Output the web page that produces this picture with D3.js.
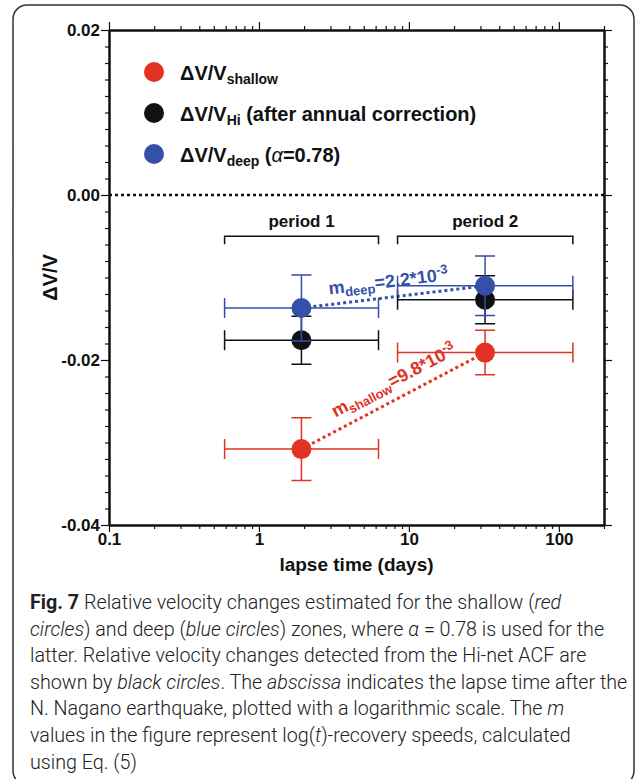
<!DOCTYPE html>
<html>
<head>
<meta charset="utf-8">
<script src="https://cdn.jsdelivr.net/npm/d3@7"></script>
<style>
  body { margin: 0; background: #fff; }
  svg { display: block; }
</style>
</head>
<body>
<div id="chart"></div>
<script>
// periods and lapse times (days)
const periods = ['period 1', 'period 2'];
const periodStart = [0.59, 8.4];
const periodEnd = [6.27, 124];
const lapseTime = [1.92, 32.2];

// dV/V values and their errors
const shallow = [-0.0308, -0.0191];
const shallowErr = [0.0038, 0.0027];
const hinet = [-0.0176, -0.0127];
const hinetErr = [0.0029, 0.0029];
const deep = [-0.0137, -0.0110];
const deepErr = [0.0040, 0.0036];

const slopeShallow = '9.8';
const slopeDeep = '2.2';

const xMajor = [0.1, 1, 10, 100];
const yMajor = [0.02, 0, -0.02, -0.04];

const captionLines = [
  [['b', 'Fig. 7'], ['n', ' Relative velocity changes estimated for the shallow ('], ['i', 'red']],
  [['i', 'circles'], ['n', ') and deep ('], ['i', 'blue circles'], ['n', ') zones, where '], ['i', 'α'], ['n', ' = 0.78 is used for the']],
  [['n', 'latter. Relative velocity changes detected from the Hi-net ACF are']],
  [['n', 'shown by '], ['i', 'black circles'], ['n', '. The '], ['i', 'abscissa'], ['n', ' indicates the lapse time after the']],
  [['n', 'N. Nagano earthquake, plotted with a logarithmic scale. The '], ['i', 'm']],
  [['n', 'values in the figure represent log('], ['i', 't'], ['n', ')-recovery speeds, calculated']],
  [['n', 'using Eq. (5)']]
];

const RED = '#e03323', BLUE = '#3550a8', BLACK = '#111';
const W = 636, H = 779;
const margin = { top: 30, right: 32, bottom: 254, left: 109 };
const width = W - margin.left - margin.right;
const height = H - margin.top - margin.bottom;
const FONT = '"Liberation Sans", Arial, Helvetica, sans-serif';

const svg = d3.select('#chart').append('svg')
  .attr('width', W)
  .attr('height', H)
  .style('font-family', FONT);

// rounded frame
svg.append('rect')
  .attr('x', 13).attr('y', 5)
  .attr('width', 621).attr('height', 780)
  .attr('rx', 14)
  .attr('fill', 'none')
  .attr('stroke', '#333')
  .attr('stroke-width', 1.5);

const g = svg.append('g')
  .attr('transform', `translate(${margin.left},${margin.top})`);

const x = d3.scaleLog().domain([0.1, 200]).range([0, width]);
const y = d3.scaleLinear().domain([-0.04, 0.02]).range([height, 0]);

const xMinor = [];
[0.1, 1, 10, 100].forEach(d => { for (let k = 2; k <= 9; k++) if (d * k <= 200) xMinor.push(d * k); });
const yMinor = d3.range(-20, 11).map(i => i * 0.002).filter(v => !yMajor.some(m => Math.abs(m - v) < 1e-9));

function styleAxis(sel) {
  sel.select('.domain').attr('stroke', BLACK).attr('stroke-width', 2);
  sel.selectAll('.tick line').attr('stroke', BLACK).attr('stroke-width', 1.2);
  sel.selectAll('.tick text')
    .attr('fill', BLACK)
    .style('font-family', FONT)
    .style('font-size', '17px')
    .style('font-weight', 'bold');
}

// bottom axis
g.append('g').attr('transform', `translate(0,${height})`)
  .call(d3.axisBottom(x).tickValues(xMinor).tickSize(4).tickSizeOuter(0).tickFormat(''))
  .call(styleAxis);
g.append('g').attr('transform', `translate(0,${height})`)
  .call(d3.axisBottom(x).tickValues(xMajor).tickSize(7).tickSizeOuter(0).tickPadding(1).tickFormat(d => String(d)))
  .call(styleAxis);

// top axis
g.append('g')
  .call(d3.axisTop(x).tickValues(xMinor).tickSize(4).tickSizeOuter(0).tickFormat(''))
  .call(styleAxis);
g.append('g')
  .call(d3.axisTop(x).tickValues(xMajor).tickSize(8).tickSizeOuter(0).tickFormat(''))
  .call(styleAxis);

// left axis
g.append('g')
  .call(d3.axisLeft(y).tickValues(yMinor).tickSize(4).tickSizeOuter(0).tickFormat(''))
  .call(styleAxis);
g.append('g')
  .call(d3.axisLeft(y).tickValues(yMajor).tickSize(8).tickSizeOuter(0).tickPadding(1).tickFormat(d => d.toFixed(2)))
  .call(styleAxis);

// right axis
g.append('g').attr('transform', `translate(${width},0)`)
  .call(d3.axisRight(y).tickValues(yMinor).tickSize(4).tickSizeOuter(0).tickFormat(''))
  .call(styleAxis);
g.append('g').attr('transform', `translate(${width},0)`)
  .call(d3.axisRight(y).tickValues(yMajor).tickSize(8).tickSizeOuter(0).tickFormat(''))
  .call(styleAxis);

// zero line
g.append('line')
  .attr('x1', 0).attr('x2', width)
  .attr('y1', y(0)).attr('y2', y(0))
  .attr('stroke', BLACK)
  .attr('stroke-width', 2.5)
  .attr('stroke-dasharray', '3,3');

// axis titles
svg.append('text')
  .attr('transform', `translate(57,${margin.top + height / 2}) rotate(-90)`)
  .attr('text-anchor', 'middle')
  .attr('font-size', '20px')
  .attr('font-weight', 'bold')
  .attr('fill', BLACK)
  .text('ΔV/V');

svg.append('text')
  .attr('x', margin.left + width / 2)
  .attr('y', margin.top + height + 46)
  .attr('text-anchor', 'middle')
  .attr('font-size', '19px')
  .attr('font-weight', 'bold')
  .attr('fill', BLACK)
  .text('lapse time (days)');

// period brackets
const yBracket = y(-0.0050);
periods.forEach((p, i) => {
  const x0 = x(periodStart[i]), x1 = x(periodEnd[i]);
  g.append('path')
    .attr('d', `M${x0},${yBracket + 8}V${yBracket}H${x1}V${yBracket + 8}`)
    .attr('fill', 'none')
    .attr('stroke', BLACK)
    .attr('stroke-width', 1.5);
  g.append('text')
    .attr('x', (x0 + x1) / 2)
    .attr('y', yBracket - 9)
    .attr('text-anchor', 'middle')
    .attr('font-size', '17px')
    .attr('font-weight', 'bold')
    .attr('fill', BLACK)
    .text(p);
});

// slope annotations
function slopeLabel(vals, color, name, m, along, offset) {
  const p0 = [x(lapseTime[0]), y(vals[0])];
  const p1 = [x(lapseTime[1]), y(vals[1])];
  const ang = Math.atan2(p1[1] - p0[1], p1[0] - p0[0]) * 180 / Math.PI;
  const mx = (p0[0] + p1[0]) / 2, my = (p0[1] + p1[1]) / 2;
  const t = g.append('text')
    .attr('transform', `translate(${mx},${my}) rotate(${ang}) translate(${along},${offset})`)
    .attr('text-anchor', 'middle')
    .attr('font-size', '18px')
    .attr('font-weight', 'bold')
    .attr('fill', color);
  t.append('tspan').text('m');
  t.append('tspan').attr('font-size', '13px').attr('dy', 4).text(name);
  t.append('tspan').attr('dy', -4).text(`=${m}*10`);
  t.append('tspan').attr('font-size', '13px').attr('dy', -7).text('-3');
}
slopeLabel(deep, BLUE, 'deep', slopeDeep, -3, -10);
slopeLabel(shallow, RED, 'shallow', slopeShallow, 10, -12);

// dotted connecting lines
function connect(vals, color) {
  g.append('path')
    .datum(vals)
    .attr('d', d3.line().x((d, i) => x(lapseTime[i])).y(d => y(d)))
    .attr('fill', 'none')
    .attr('stroke', color)
    .attr('stroke-width', 3)
    .attr('stroke-dasharray', '3,3');
}
connect(shallow, RED);
connect(deep, BLUE);

// error bars + points
function series(vals, errs, color) {
  const s = g.append('g');
  vals.forEach((v, i) => {
    const cx = x(lapseTime[i]), cy = y(v);
    const xa = x(periodStart[i]), xb = x(periodEnd[i]);
    const ya = y(v + errs[i]), yb = y(v - errs[i]);
    const d = `M${xa},${cy}H${xb}M${xa},${cy - 10}V${cy + 10}M${xb},${cy - 10}V${cy + 10}` +
      `M${cx},${ya}V${yb}M${cx - 10},${ya}H${cx + 10}M${cx - 10},${yb}H${cx + 10}`;
    s.append('path').attr('d', d)
      .attr('fill', 'none')
      .attr('stroke', color)
      .attr('stroke-width', 1.5);
  });
  s.selectAll('circle').data(vals).enter().append('circle')
    .attr('cx', (d, i) => x(lapseTime[i]))
    .attr('cy', d => y(d))
    .attr('r', 10)
    .attr('fill', color);
}
series(hinet, hinetErr, BLACK);
series(shallow, shallowErr, RED);
series(deep, deepErr, BLUE);

// legend
const legend = [
  { color: RED, sub: 'shallow', rest: [] },
  { color: BLACK, sub: 'Hi', rest: [['n', ' (after annual correction)']] },
  { color: BLUE, sub: 'deep', rest: [['n', ' ('], ['a', 'α'], ['n', '=0.78)']] }
];
legend.forEach((l, i) => {
  const ly = 72 + i * 41;
  svg.append('circle').attr('cx', 154).attr('cy', ly).attr('r', 10).attr('fill', l.color);
  const t = svg.append('text')
    .attr('x', 180).attr('y', ly + 8)
    .attr('font-size', '20px')
    .attr('font-weight', 'bold')
    .attr('fill', BLACK);
  t.append('tspan').text('ΔV/V');
  t.append('tspan').attr('font-size', '14px').attr('dy', 4).text(l.sub);
  l.rest.forEach((r, j) => {
    const sp = t.append('tspan').text(r[1]);
    if (j === 0) sp.attr('dy', -4);
    if (r[0] === 'a') sp.attr('font-style', 'italic').attr('font-weight', 'normal');
  });
});

// caption
const CAP_FONT = 'Roboto, "Open Sans", sans-serif';
const cap = svg.append('g').style('font-family', CAP_FONT).attr('fill', '#222');
const capTexts = captionLines.map((line, i) => {
  const t = cap.append('text')
    .attr('x', 30)
    .attr('y', 609 + i * 26.6)
    .attr('font-size', '19px')
    .attr('font-weight', 300);
  line.forEach(([k, s]) => {
    const sp = t.append('tspan').text(s);
    if (k === 'b') sp.attr('font-weight', 'bold');
    if (k === 'i') sp.attr('font-style', 'italic');
  });
  return t;
});
// fit the font size so that the sixth line ends where the reference does
const w6 = capTexts[5].node().getComputedTextLength();
const fs = 19 * 541 / w6;
capTexts.forEach(t => t.attr('font-size', fs + 'px'));
</script>
</body>
</html>
